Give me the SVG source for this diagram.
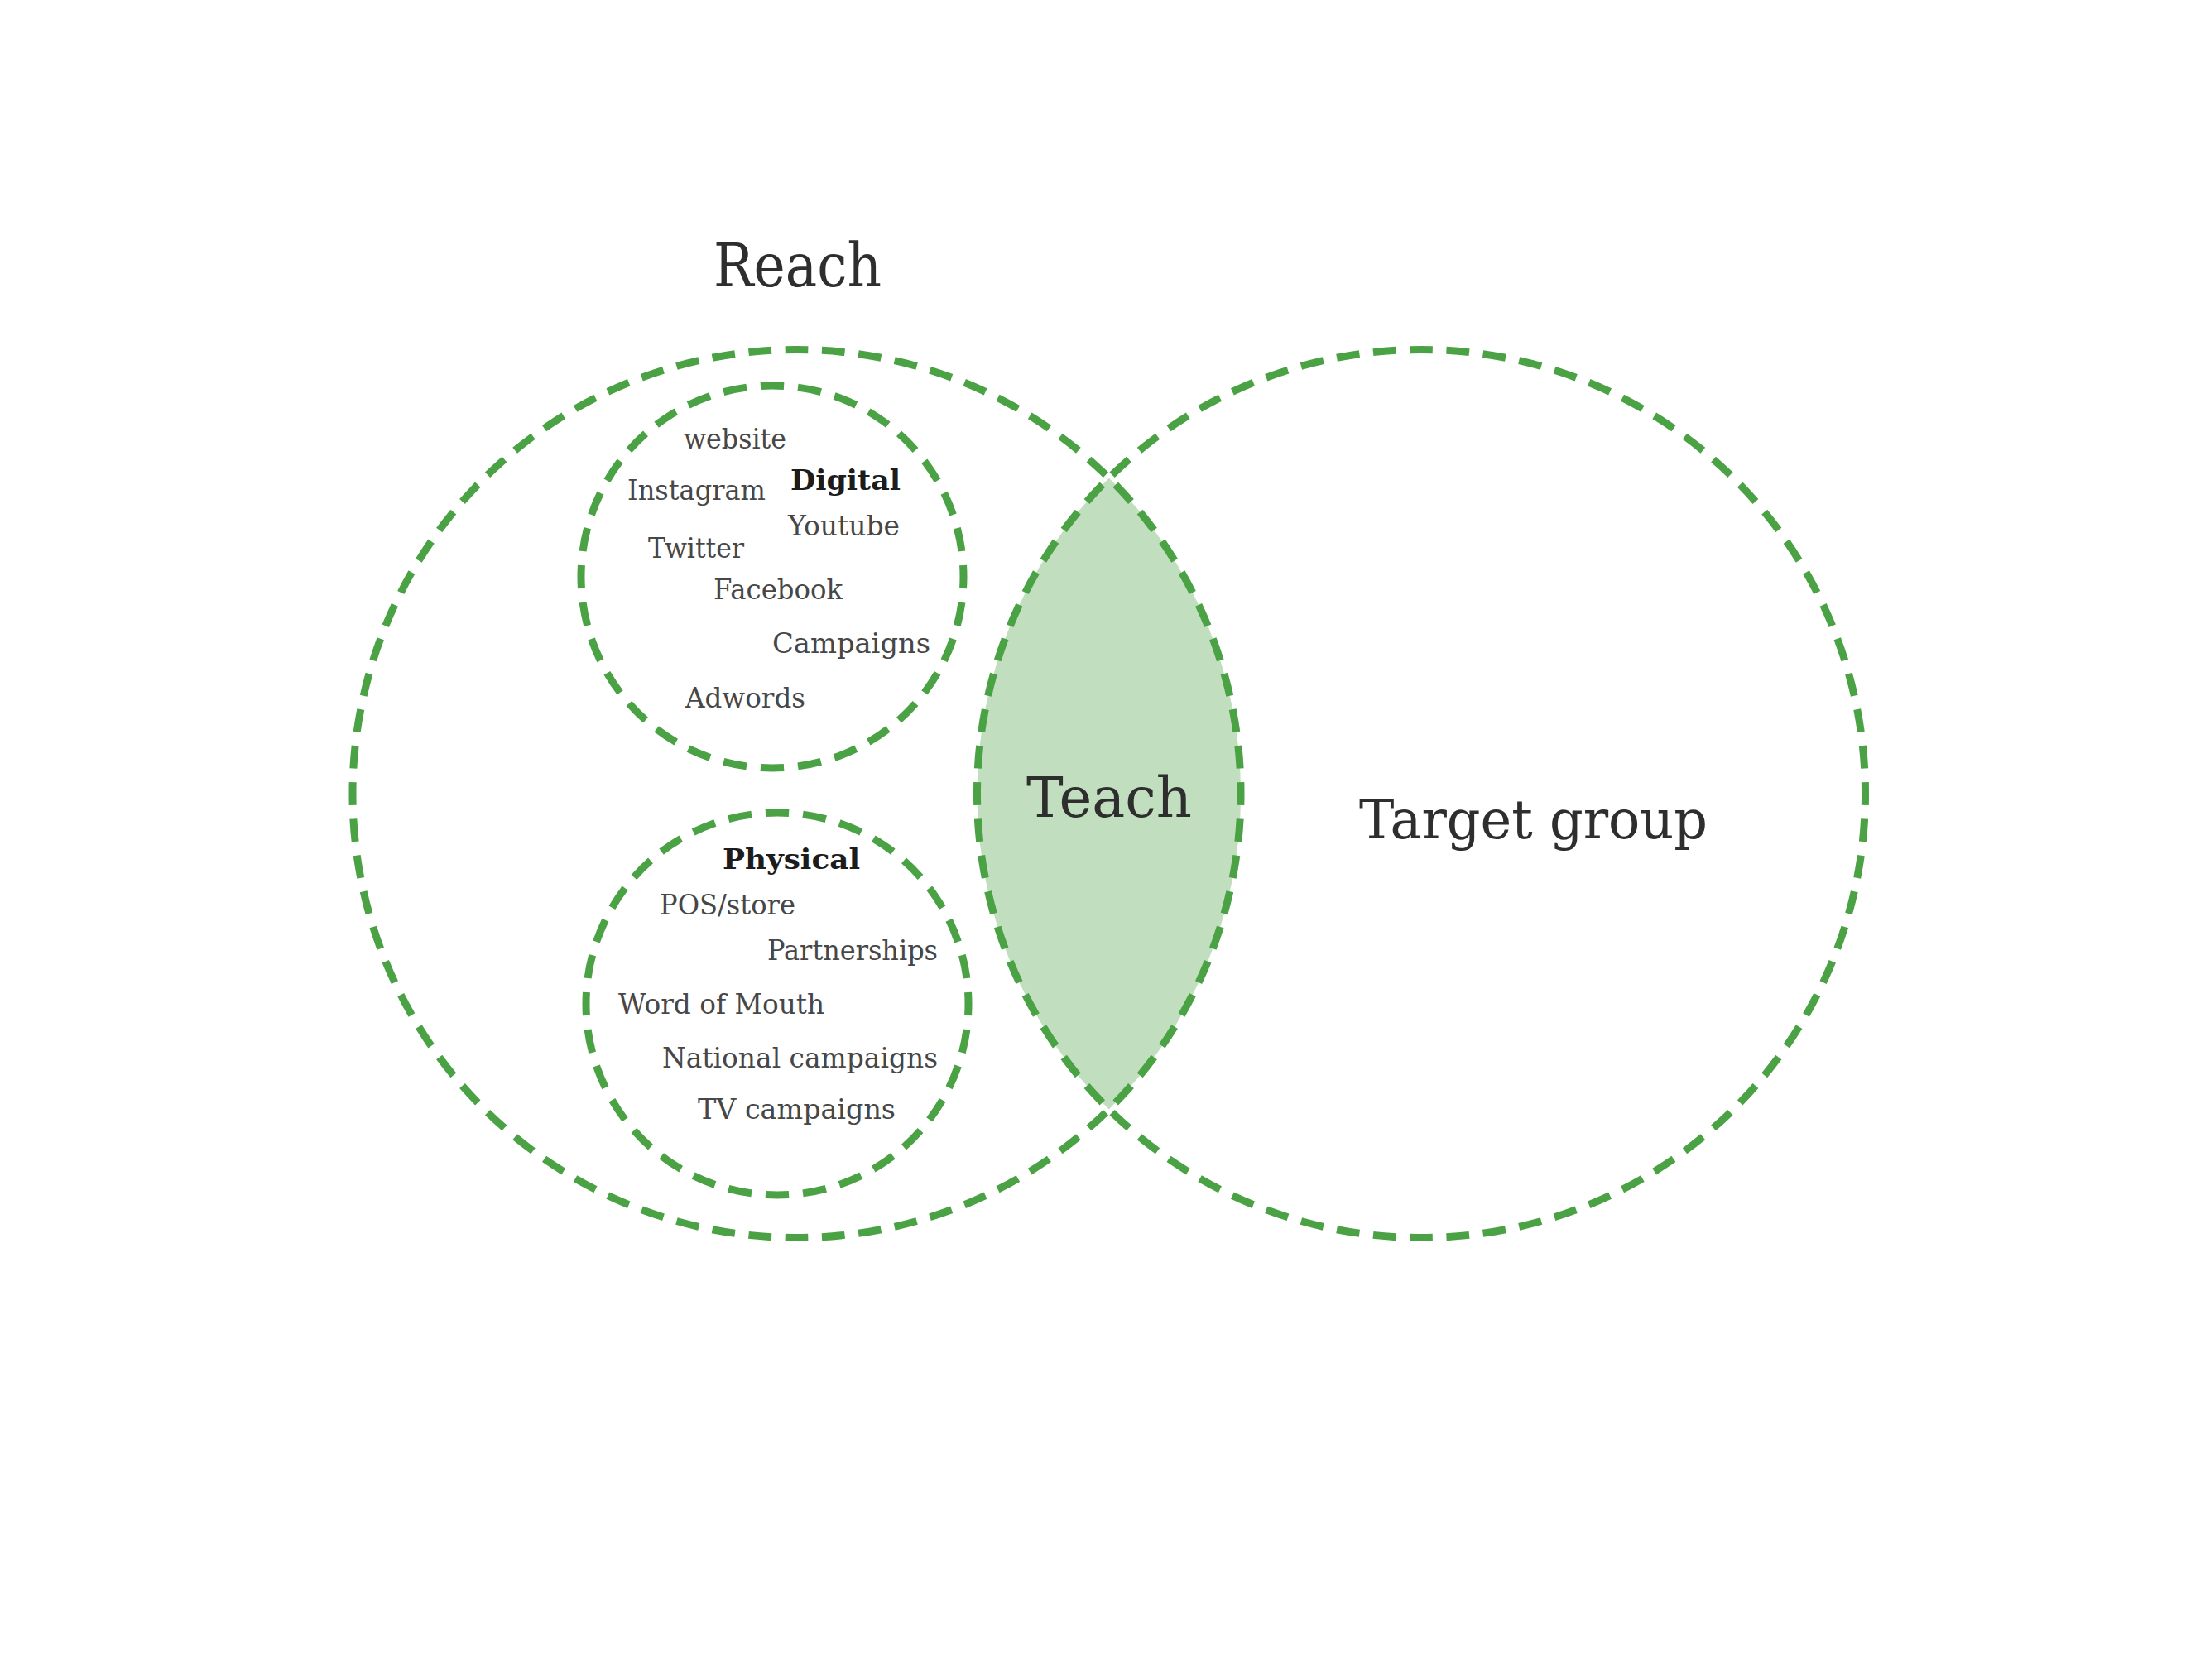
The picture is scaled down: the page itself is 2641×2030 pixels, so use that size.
<svg xmlns="http://www.w3.org/2000/svg" width="2641" height="2030" viewBox="0 0 2641 2030">
<style>
.ring{fill:none;stroke:#4aa245;stroke-width:9;stroke-dasharray:27.5 16.5;stroke-dashoffset:13.75}
.lens{fill:#c1dfbf;stroke:none}
.t{font-family:"DejaVu Serif","Liberation Serif",serif;font-size:34px;fill:#474747}
.b{font-family:"DejaVu Serif","Liberation Serif",serif;font-size:33px;font-weight:bold;fill:#1c1c1c}
.big{font-family:"DejaVu Serif","Liberation Serif",serif;fill:#2e2e2e}
</style>
<rect width="2641" height="2030" fill="#ffffff"/>
<g id="teach">
<path class="lens" d="M1339.8 577.5 A536.5 536.5 0 0 1 1339.8 1340.5 A536.5 536.5 0 0 1 1339.8 577.5 Z"/>
<text class="big" x="1240" y="987" font-size="67" textLength="200" lengthAdjust="spacingAndGlyphs">Teach</text>
</g>
<g id="reach">
<circle class="ring" cx="962.5" cy="959" r="536.5" pathLength="3344"/>
<text class="big" x="862" y="346" font-size="73" textLength="203" lengthAdjust="spacingAndGlyphs">Reach</text>
</g>
<g id="target-group">
<circle class="ring" cx="1717" cy="959" r="536.5" pathLength="3344"/>
<text class="big" x="1642" y="1013" font-size="66" textLength="421" lengthAdjust="spacingAndGlyphs">Target group</text>
</g>
<g id="digital">
<circle class="ring" cx="933" cy="697" r="231" pathLength="1408"/>
<text class="b" x="955" y="592" textLength="133" lengthAdjust="spacingAndGlyphs">Digital</text>
<text class="t" x="826" y="542" textLength="124" lengthAdjust="spacingAndGlyphs">website</text>
<text class="t" x="758" y="604" textLength="167" lengthAdjust="spacingAndGlyphs">Instagram</text>
<text class="t" x="952" y="647" textLength="135" lengthAdjust="spacingAndGlyphs">Youtube</text>
<text class="t" x="783" y="674" textLength="116" lengthAdjust="spacingAndGlyphs">Twitter</text>
<text class="t" x="862" y="724" textLength="156" lengthAdjust="spacingAndGlyphs">Facebook</text>
<text class="t" x="933" y="789" textLength="191" lengthAdjust="spacingAndGlyphs">Campaigns</text>
<text class="t" x="828" y="855" textLength="145" lengthAdjust="spacingAndGlyphs">Adwords</text>
</g>
<g id="physical">
<circle class="ring" cx="939" cy="1213" r="231" pathLength="1408"/>
<text class="b" x="873" y="1050" textLength="166" lengthAdjust="spacingAndGlyphs">Physical</text>
<text class="t" x="797" y="1105" textLength="164" lengthAdjust="spacingAndGlyphs">POS/store</text>
<text class="t" x="927" y="1160" textLength="206" lengthAdjust="spacingAndGlyphs">Partnerships</text>
<text class="t" x="747" y="1225" textLength="249" lengthAdjust="spacingAndGlyphs">Word of Mouth</text>
<text class="t" x="800" y="1290" textLength="333" lengthAdjust="spacingAndGlyphs">National campaigns</text>
<text class="t" x="843" y="1352" textLength="239" lengthAdjust="spacingAndGlyphs">TV campaigns</text>
</g>
<g id="connectors"></g>
</svg>
